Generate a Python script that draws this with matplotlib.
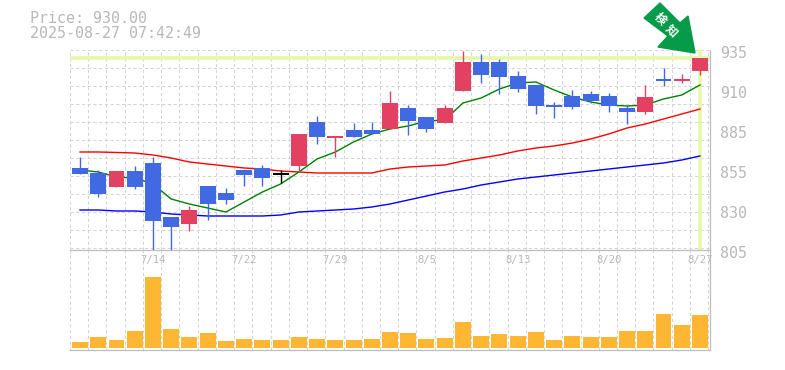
import numpy as np
import matplotlib
matplotlib.use("Agg")
import matplotlib.pyplot as plt
from matplotlib.patches import Polygon
from matplotlib.transforms import IdentityTransform

# candle bodies, top/bottom of body and wick ends
body_top = [858.3, 855.05, 856.35, 856.35, 861.55, 826.45, 831, 846.6, 842.05, 857, 858.3, 855,
            880.4, 888.2, 879.1, 883, 883, 900.55, 897.3, 891.45, 897.3, 927.2, 927.2, 927.2, 918.1,
            912.25, 899.25, 905.1, 906.4, 905.1, 897.3, 904.45, 916.15, 916.15, 930]
body_bot = [854.4, 841.4, 845.95, 845.95, 823.85, 819.95, 821.9, 834.9, 837.5, 853.75, 851.8, 854,
            859.6, 878.45, 877.8, 878.45, 880.4, 883.65, 888.85, 883.65, 887.55, 908.35, 918.75, 917.45, 909.65,
            898.6, 897.95, 897.95, 901.85, 898.6, 894.7, 894.7, 914.85, 914.85, 921.35]
wick_hi = [865.45, 857, 856.35, 859.6, 865.45, 826.45, 833.6, 846.6, 845.3, 857, 860.25, 857,
           880.4, 892.1, 879.1, 887.55, 888.2, 908.35, 899.25, 891.45, 899.25, 934.35, 932.4, 929.15, 921.35,
           912.25, 901.2, 909, 908.35, 907.05, 899.25, 912.25, 923.3, 919.4, 930]
wick_lo = [854.4, 839.45, 845.95, 844.65, 805, 805, 817.35, 824.5, 834.9, 846.6, 846.6, 848.55,
           855.7, 873.9, 865.45, 878.45, 880.4, 883.65, 879.75, 881.7, 887.55, 908.35, 913.55, 906.4, 907.7,
           893.4, 890.8, 896.65, 900.55, 894.7, 886.9, 893.4, 911.6, 913.55, 918.75]
# 1 = up (red), -1 = down (blue), 0 = doji (black)
direction = [-1, -1, 1, -1, -1, -1, 1, -1, -1, -1, -1, 0,
             1, -1, 1, -1, -1, 1, -1, -1, 1, 1, -1, -1, -1,
             -1, -1, -1, -1, -1, -1, 1, -1, 1, 1]

ma_short = [857, 855.7, 852.45, 851.8, 847.9, 838.15, 834.9, 832.3, 829.7, 836.2, 842.7, 847.9,
            855.7, 864.15, 868.7, 875.2, 880.4, 883.65, 885.6, 888.85, 889.5, 900.55, 903.8, 909.65, 913.55,
            914.2, 909, 904.45, 901.2, 899.25, 898.6, 899.25, 903.15, 905.75, 912.25]
ma_mid = [868.7, 868.7, 868.4, 868.05, 866.75, 864.8, 862.2, 860.9, 859.6, 858.3, 857.65, 856.35,
          855.7, 855.05, 855.05, 855.05, 855.05, 857.65, 858.95, 859.6, 860.25, 862.85, 864.8, 866.75, 869.35,
          871.3, 872.6, 874.55, 877.15, 880.4, 884.3, 886.9, 890.15, 893.4, 896.65]
ma_long = [831, 831, 830.35, 830.35, 829.7, 828.4, 827.75, 827.1, 827.1, 827.1, 827.1, 827.75,
           829.7, 830.35, 831, 831.65, 832.95, 834.9, 837.5, 840.1, 842.7, 844.65, 847.25, 849.2, 851.15,
           852.45, 853.75, 855.05, 856.35, 857.65, 858.95, 860.25, 861.55, 863.5, 866.1]

volume = [6, 11, 8, 17, 71, 19, 11, 15, 7, 9, 8, 8, 11, 9, 8, 8, 9, 16,
          15, 9, 10, 26, 12, 14, 12, 16, 8, 12, 11, 11, 17, 17, 34, 23, 33]

price_ticks = [935, 909, 883, 857, 831, 805]
price_labels = ["935", "910", "885", "855", "830", "805"]
date_pos = [4, 9, 14, 19, 24, 29, 34]
date_labels = ["7/14", "7/22", "7/29", "8/5", "8/13", "8/20", "8/27"]
last_price = 930

GRAY = "#b8b8b8"
GRID = "#d4d4d4"
HILITE = "#e6f7a8"
CANDLE = {1: "#e34161", -1: "#4169e1", 0: "#000000"}

W, H = 785, 370
fig = plt.figure(figsize=(W / 100, H / 100), dpi=100)


def box(left, top, right, bottom):
    return [left / W, 1 - bottom / H, (right - left) / W, (bottom - top) / H]


ax = fig.add_axes(box(70, 50, 710, 250))
ax2 = fig.add_axes(box(70, 250, 710, 350))
ax2.patch.set_visible(False)
xs = np.arange(35)
grid_x = np.arange(36) - 0.55

for a in (ax, ax2):
    a.set_xlim(-0.55, 34.55)
    a.set_xticks(grid_x)
    a.tick_params(length=0, labelbottom=False, labelleft=False)
    a.set_axisbelow(True)
    a.grid(axis="x", color=GRID, lw=0.75, ls=(0, (3, 2.5)))
    for s in ("top", "left"):
        a.spines[s].set_visible(False)
    for s in ("right", "bottom"):
        a.spines[s].set_color("#bdbdbd")
        a.spines[s].set_linewidth(0.9)

ax.set_ylim(805, 935)
ax.set_yticks(np.arange(935, 804, -11.7))
ax.grid(axis="y", color=GRID, lw=0.75, ls=(0, (3, 2.5)))

ax.axhline(last_price, xmin=0, xmax=0.997, color=HILITE, lw=2.6, zorder=1)
ax.axvline(xs[-1], color=HILITE, lw=2.6, zorder=1)

ax.plot(xs, ma_long, color="#0000ff", lw=1.0, zorder=2)
ax.plot(xs, ma_mid, color="#ff0000", lw=1.0, zorder=2)
ax.plot(xs, ma_short, color="#008000", lw=1.0, zorder=2)

colors = [CANDLE[d] for d in direction]
ax.vlines(xs, wick_lo, wick_hi, colors=colors, lw=1.0, zorder=3)
ax.bar(xs, np.array(body_top) - np.array(body_bot), bottom=body_bot, width=0.877, color=colors, zorder=4)

for p, lab in zip(price_ticks, price_labels):
    ax.annotate(lab, xy=(1, p), xycoords=ax.get_yaxis_transform(), xytext=(7.2, -2.2),
                textcoords="offset points", color=GRAY, fontsize=10.8,
                family="DejaVu Sans Mono", va="center", ha="left", annotation_clip=False)

ax2.set_ylim(-2, 98)
ax2.set_yticks([])
ax2.bar(xs, volume, width=0.877, color="#ffb733", zorder=3)
for p, lab in zip(date_pos, date_labels):
    ax2.text(p, 87.5, lab, color=GRAY, fontsize=7.6, family="DejaVu Sans Mono",
             ha="center", va="center", zorder=5, clip_on=False)

fig.text(30 / W, 1 - 18.5 / H, "Price: 930.00", color=GRAY, fontsize=10.8,
         family="DejaVu Sans Mono", va="center", ha="left")
fig.text(30 / W, 1 - 33 / H, "2025-08-27 07:42:49", color=GRAY, fontsize=10.8,
         family="DejaVu Sans Mono", va="center", ha="left")

# green badge arrow, in pixels from the top left
arrow = [(660, 3), (680, 23), (688, 16), (695, 53), (658, 47), (668, 36), (644, 18)]
fig.add_artist(Polygon([(x, H - y) for x, y in arrow], closed=True, color="#059b48",
                       transform=IdentityTransform(), zorder=10))
for ch, px, py in [("検", 660, 19), ("知", 671, 31)]:
    fig.text(px / W, 1 - py / H, ch, color="white", fontsize=8.5, fontweight="bold", rotation=-45,
             rotation_mode="anchor", family=["Noto Sans CJK JP", "DejaVu Sans"],
             ha="center", va="center", zorder=11)

fig.savefig("out.png", dpi=100)
